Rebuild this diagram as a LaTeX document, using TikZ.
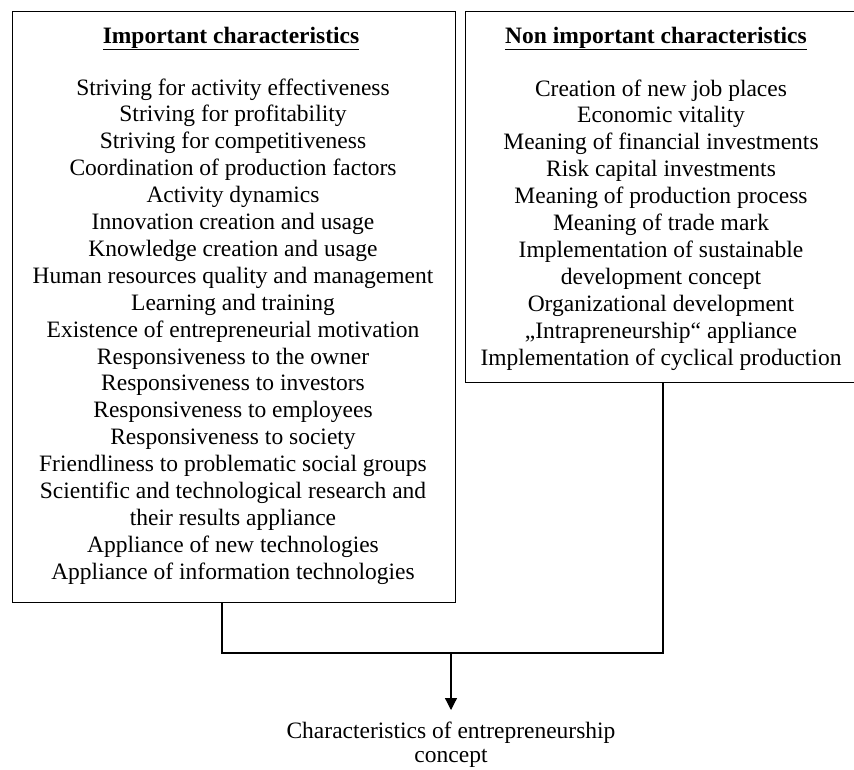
\documentclass[tikz,border=0pt]{standalone}
\usepackage{fontspec}
\setmainfont{Liberation Serif}
\usetikzlibrary{arrows.meta}
\begin{document}
\begin{tikzpicture}[x=1pt,y=-1pt,
  box/.style={draw, line width=1.2pt, inner sep=0pt, anchor=north west},
  item/.style={font=\fontsize{23.5}{27}\selectfont, anchor=base, inner sep=0pt},
  head/.style={font=\fontsize{23.5}{27}\selectfont\bfseries, anchor=base, inner sep=0pt},
  conn/.style={line width=1.2pt},
  target/.style={font=\fontsize{23.5}{24}\selectfont, align=center, anchor=north, inner xsep=0pt, inner ysep=12pt}]
\useasboundingbox (0,0) rectangle (854,769);
\fill[white] (0,0) rectangle (854,769);
% boxes
\node[box, minimum width=443.5pt, minimum height=591pt] (Lbox) at (11.5,11) {};
\node[box, minimum width=392pt, minimum height=371pt] (Rbox) at (465,11) {};
% headings
\node[head] (Lhead) at (231,43) {\underline{Important characteristics}};
\node[head] (Rhead) at (656,43) {\underline{Non important characteristics}};
% left list
\foreach \t [count=\i] in {
  Striving for activity effectiveness,
  Striving for profitability,
  Striving for competitiveness,
  Coordination of production factors,
  Activity dynamics,
  Innovation creation and usage,
  Knowledge creation and usage,
  Human resources quality and management,
  Learning and training,
  Existence of entrepreneurial motivation,
  Responsiveness to the owner,
  Responsiveness to investors,
  Responsiveness to employees,
  Responsiveness to society,
  Friendliness to problematic social groups,
  Scientific and technological research and,
  their results appliance,
  Appliance of new technologies,
  Appliance of information technologies}
  \node[item] (L\i) at (233,{95+(\i-1)*26.9}) {\t};
% right list
\foreach \t [count=\i] in {
  Creation of new job places,
  Economic vitality,
  Meaning of financial investments,
  Risk capital investments,
  Meaning of production process,
  Meaning of trade mark,
  Implementation of sustainable,
  development concept,
  Organizational development,
  „Intrapreneurship“ appliance,
  Implementation of cyclical production}
  \node[item] (R\i) at (661,{96+(\i-1)*26.9}) {\t};
% target
\node[target] (T) at (451,710) {Characteristics of entrepreneurship\\concept};
% connectors
\coordinate (jl) at (222,653);
\coordinate (jr) at (663,653);
\coordinate (jm) at (451,653);
\draw[conn] (Lbox.south -| jl) -- (jl) -- (jr) -- (Rbox.south -| jr);
\draw[conn, -{Triangle[length=12pt,width=12pt]}] (jm) -- (T.north);
\end{tikzpicture}
\end{document}
